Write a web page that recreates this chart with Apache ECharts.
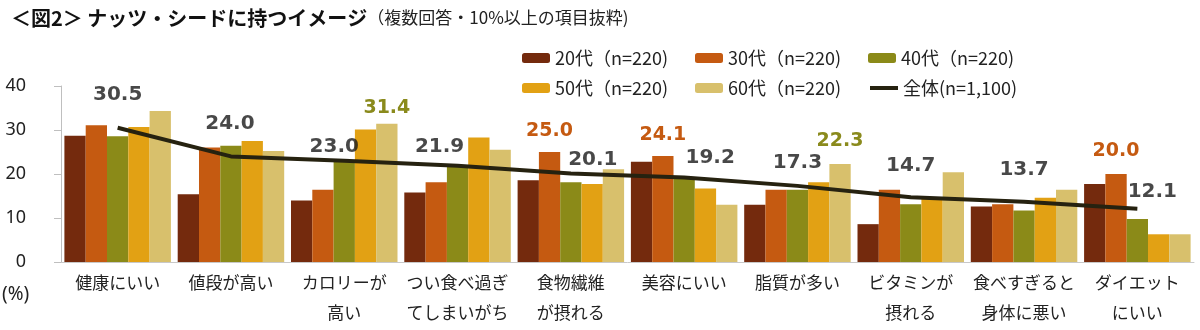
<!DOCTYPE html>
<html><head><meta charset="utf-8">
<script src="https://cdn.jsdelivr.net/npm/echarts@6/dist/echarts.min.js"></script>
<style>html,body{margin:0;padding:0;background:#fff}#c{width:1200px;height:330px}</style>
</head><body><div id="c"></div>
<script>
// ---- data ----
const categories = ['健康にいい','値段が高い','カロリーが\n高い','つい食べ過ぎ\nてしまいがち','食物繊維\nが摂れる','美容にいい','脂質が多い','ビタミンが\n摂れる','食べすぎると\n身体に悪い','ダイエット\nにいい'];
const seriesNames = ['20代（n=220)','30代（n=220)','40代（n=220)','50代（n=220)','60代（n=220)'];
const totalName = '全体(n=1,100)';
const age20 = [28.7, 15.4, 14.0, 15.8, 18.6, 22.8, 13.0, 8.6, 12.6, 17.7];
const age30 = [31.1, 26.0, 16.4, 18.1, 25.0, 24.1, 16.4, 16.4, 13.1, 20.0];
const age40 = [28.6, 26.4, 22.7, 21.7, 18.1, 19.1, 16.4, 13.1, 11.7, 9.8];
const age50 = [30.7, 27.5, 30.1, 28.3, 17.7, 16.7, 18.1, 14.3, 14.6, 6.3];
const age60 = [34.3, 25.2, 31.4, 25.5, 21.1, 13.0, 22.3, 20.4, 16.4, 6.3];
const total = [30.5, 24.0, 23.0, 21.9, 20.1, 19.2, 17.3, 14.7, 13.7, 12.1];
const yMin = 0, yMax = 40, yStep = 10;
// highlighted bar labels: [seriesIndex, categoryIndex]
const highlighted = [[4,2],[1,4],[1,5],[4,6],[1,9]];

// ---- styles ----
const barColors = ['#742a0d','#c55a11','#8b8a18','#e2a114','#d8c06c'];
const lineColor = '#262210';
const highlightColors = {1:'#c55a11', 4:'#8a8a1c'};
const highlightDistance = {'4,2':6, '1,4':11, '1,5':11, '4,6':13, '1,9':13};
const totalLabelShift = [[0,-33],[-1,-33],[-10,-14],[-18,-19],[22,-14],[26,-20],[0,-23],[0,-32],[0,-32],[15,-17]];
const JP = '"Noto Sans CJK JP", sans-serif';
const NUM = '"DejaVu Sans", sans-serif';

const seriesData = [age20, age30, age40, age50, age60];
const barSeries = seriesData.map((arr, si) => ({
  name: seriesNames[si],
  type: 'bar',
  barGap: '0%',
  barCategoryGap: '6%',
  itemStyle: {color: barColors[si]},
  data: arr.map((v, ci) => {
    const h = highlighted.find(p => p[0] === si && p[1] === ci);
    if (!h) return v;
    return {value: v, label: {show: true, position: 'top', distance: highlightDistance[si+','+ci],
      color: highlightColors[si], fontSize: 19, fontWeight: 'bold', fontFamily: NUM,
      formatter: p => p.value.toFixed(1)}};
  })
}));

const lineSeries = {
  name: totalName,
  type: 'line',
  symbol: 'none',
  z: 5,
  lineStyle: {color: lineColor, width: 4},
  itemStyle: {color: lineColor},
  data: total
};

const labelSeries = {
  name: 'totalLabels',
  type: 'scatter',
  symbolSize: 1,
  z: 6,
  silent: true,
  itemStyle: {color: 'rgba(0,0,0,0)'},
  data: total.map((v, i) => ({value: v, label: {show: true, position: 'inside', offset: totalLabelShift[i],
    color: '#1a1a1a', fontSize: 20, fontWeight: 'bold', fontFamily: NUM,
    formatter: p => p.value.toFixed(1)}}))
};

const chart = echarts.init(document.getElementById('c'), null, {renderer: 'canvas'});
chart.setOption({
  animation: false,
  backgroundColor: '#fff',
  title: {
    left: 6, top: 3,
    text: '{a|＜図2＞ ナッツ・シードに持つイメージ}{b|（複数回答・10%以上の項目抜粋)}',
    textStyle: {rich: {
      a: {fontSize: 20, fontWeight: 'bold', color: '#111', fontFamily: JP},
      b: {fontSize: 17, fontWeight: 'normal', color: '#222', fontFamily: JP}
    }}
  },
  legend: {
    left: 517, top: 43, width: 530,
    itemWidth: 28, itemHeight: 10, itemGap: 10,
    textStyle: {fontSize: 18, color: '#222', fontFamily: JP, width: 130, lineHeight: 20},
    data: [...seriesNames, {name: totalName, itemStyle: {color: 'rgba(0,0,0,0)', borderWidth: 0, opacity: 0}, lineStyle: {color: lineColor, width: 4}}]
  },
  grid: {left: 61, right: 6, top: 86, bottom: 68, containLabel: false},
  xAxis: {
    type: 'category', data: categories,
    axisLine: {show: true, lineStyle: {color: '#c8c8c8'}},
    axisTick: {show: false},
    axisLabel: {interval: 0, fontSize: 17, color: '#222', lineHeight: 30, margin: 6, fontFamily: JP}
  },
  yAxis: {
    type: 'value', min: yMin, max: yMax, interval: yStep,
    axisLine: {show: true, lineStyle: {color: '#bfbfbf'}},
    axisTick: {show: true, length: 7, lineStyle: {color: '#bfbfbf'}},
    splitLine: {show: false},
    axisLabel: {fontSize: 18, color: '#222', margin: 35, fontFamily: '"Noto Sans", sans-serif'}
  },
  graphic: [{type: 'text', left: 2, top: 285, style: {text: '(%)', fontSize: 19, fill: '#222', fontFamily: '"Noto Sans", sans-serif'}}],
  series: [...barSeries, lineSeries, labelSeries]
});
</script></body></html>
